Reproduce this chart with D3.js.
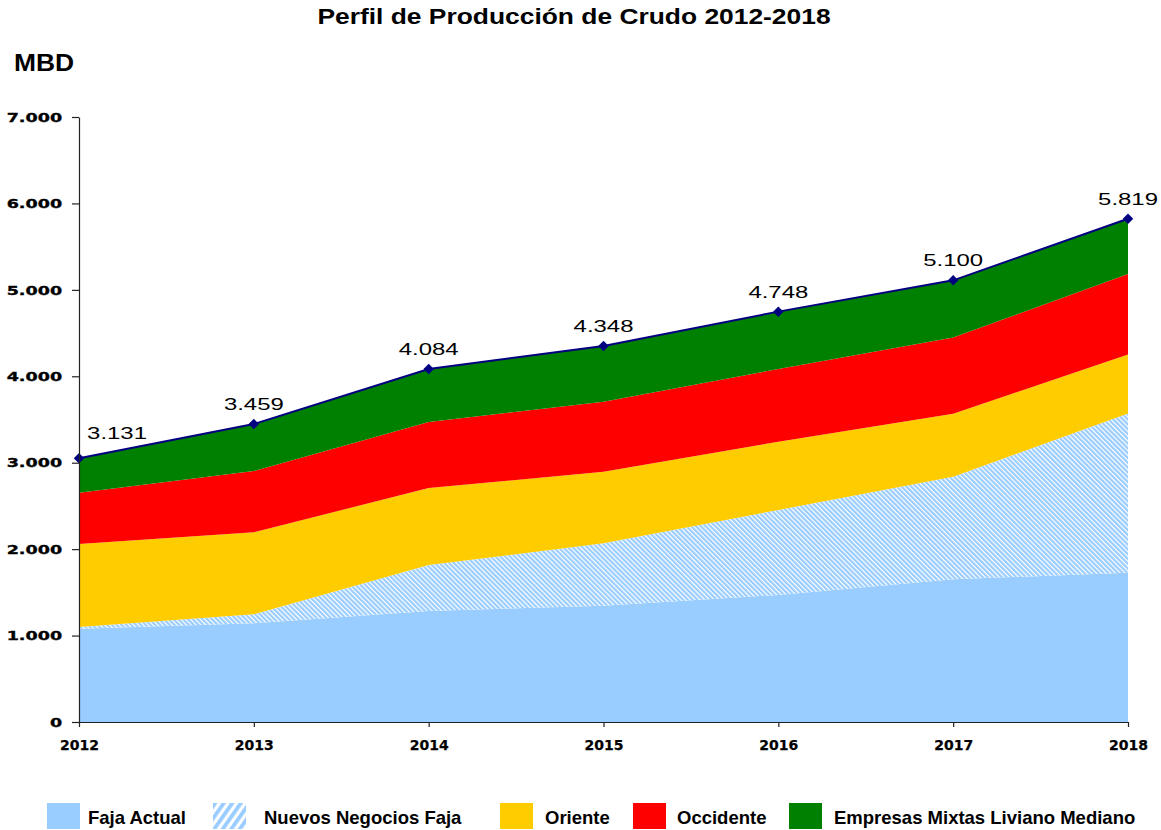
<!DOCTYPE html>
<html>
<head>
<meta charset="utf-8">
<script src="https://cdnjs.cloudflare.com/ajax/libs/d3/7.8.5/d3.min.js"></script>
<style>
  body { margin: 0; background: #fff; }
  svg text { font-family: "Liberation Sans", Arial, sans-serif; }
</style>
</head>
<body>
<svg id="chart" width="1161" height="830"></svg>
<script>
// ---- data (MBD) ----
var years = [2012, 2013, 2014, 2015, 2016, 2017, 2018];
var fajaActual     = [1080, 1142, 1284, 1346, 1470, 1651, 1727];
var nuevosNegocios = [  20,  104,  532,  721,  983, 1186, 1843];
var oriente        = [ 960,  949,  891,  829,  790,  729,  683];
var occidente      = [ 593,  709,  764,  810,  841,  884,  930];
var empresasMixtas = [ 398,  544,  613,  644,  664,  660,  640];
var totalLabels = ["3.131", "3.459", "4.084", "4.348", "4.748", "5.100", "5.819"];
var seriesKeys  = ["faja", "nuevos", "oriente", "occidente", "mixtas"];
var seriesNames = ["Faja Actual", "Nuevos Negocios Faja", "Oriente", "Occidente", "Empresas Mixtas Liviano Mediano"];
var yTicks = [0, 1000, 2000, 3000, 4000, 5000, 6000, 7000];

var seriesFill = ["#99ccff", "url(#hatch)", "#ffcc00", "#ff0000", "#008000"];
var legendFill = ["#99ccff", "url(#hatchLegend)", "#ffcc00", "#ff0000", "#008000"];

var svg = d3.select("#chart");
var plotLeft = 79, plotRight = 1128, plotTop = 117, plotBottom = 722;

var x = d3.scalePoint().domain(years).range([plotLeft, plotRight]);
var y = d3.scaleLinear().domain([0, 7000]).range([plotBottom, plotTop]);
var fmt = d3.formatLocale({decimal: ",", thousands: ".", grouping: [3], currency: ["", ""]}).format(",d");

// patterns for the hatched series
var defs = svg.append("defs");
var hatch = defs.append("pattern").attr("id", "hatch")
    .attr("patternUnits", "userSpaceOnUse")
    .attr("width", 3.4).attr("height", 3.4)
    .attr("patternTransform", "rotate(-45)");
hatch.append("rect").attr("width", 3.4).attr("height", 3.4).attr("fill", "#ffffff");
hatch.append("rect").attr("width", 2.2).attr("height", 3.4).attr("fill", "#99ccff");

var hatchL = defs.append("pattern").attr("id", "hatchLegend")
    .attr("patternUnits", "userSpaceOnUse")
    .attr("width", 7).attr("height", 7)
    .attr("patternTransform", "rotate(35)");
hatchL.append("rect").attr("width", 7).attr("height", 7).attr("fill", "#ffffff");
hatchL.append("rect").attr("width", 3.8).attr("height", 7).attr("fill", "#99ccff");

// stacked table
var rows = years.map(function(yr, i) {
    return {year: yr, faja: fajaActual[i], nuevos: nuevosNegocios[i], oriente: oriente[i],
            occidente: occidente[i], mixtas: empresasMixtas[i]};
});
var stacked = d3.stack().keys(seriesKeys)(rows);

var area = d3.area()
    .x(function(d) { return x(d.data.year); })
    .y0(function(d) { return y(d[0]); })
    .y1(function(d) { return y(d[1]); });

svg.selectAll(".layer")
    .data(stacked)
    .enter().append("path")
    .attr("class", "layer")
    .attr("d", area)
    .attr("fill", function(d, i) { return seriesFill[i]; });

// total line with diamond markers
var totals = stacked[stacked.length - 1].map(function(d) { return {year: d.data.year, v: d[1]}; });

svg.append("path")
    .datum(totals)
    .attr("fill", "none")
    .attr("stroke", "#000080")
    .attr("stroke-width", 2)
    .attr("d", d3.line().x(function(d) { return x(d.year); }).y(function(d) { return y(d.v); }));

svg.selectAll(".marker")
    .data(totals)
    .enter().append("path")
    .attr("class", "marker")
    .attr("transform", function(d) { return "translate(" + x(d.year) + "," + y(d.v) + ")"; })
    .attr("d", d3.symbol(d3.symbolDiamond2, 70))
    .attr("fill", "#000080");

// value labels
svg.selectAll(".vlabel")
    .data(totals)
    .enter().append("g")
    .attr("class", "vlabel")
    .attr("transform", function(d, i) {
        var px = x(d.year), py = y(d.v) - 14;
        if (i === 0) { px += 38; py -= 5; }   // kept clear of the axis
        return "translate(" + px + "," + py + ")";
    })
    .append("text")
    .attr("transform", "scale(1.45,1)")
    .attr("text-anchor", "middle")
    .style("font-size", "16.5px")
    .attr("fill", "#000")
    .text(function(d, i) { return totalLabels[i]; });

// axes
var yAxis = svg.append("g")
    .attr("transform", "translate(" + plotLeft + ",0)")
    .call(d3.axisLeft(y).tickValues(yTicks).tickFormat(fmt).tickSize(7).tickSizeOuter(0));
yAxis.selectAll("path, line").attr("stroke", "#222").attr("stroke-width", 1.2);
yAxis.selectAll("text")
    .attr("x", -12.5)
    .attr("transform", "scale(1.35,1)")
    .style("font-family", "'DejaVu Sans', Verdana, sans-serif")
    .style("font-weight", "bold")
    .style("font-size", "13px")
    .attr("stroke", "#000")
    .attr("stroke-width", 0.35)
    .attr("fill", "#000");

var xAxis = svg.append("g")
    .attr("transform", "translate(0," + plotBottom + ")")
    .call(d3.axisBottom(x).tickSize(5).tickSizeOuter(0));
xAxis.selectAll("path, line").attr("stroke", "#222").attr("stroke-width", 1.2);
xAxis.selectAll("text")
    .attr("y", 28)
    .attr("dy", null)
    .style("font-family", "'DejaVu Sans', Verdana, sans-serif")
    .style("font-weight", "bold")
    .style("font-size", "14px")
    .attr("stroke", "#000")
    .attr("stroke-width", 0.25)
    .attr("fill", "#000");

// titles
svg.append("g")
    .attr("transform", "translate(574,24)")
    .append("text")
    .attr("transform", "scale(1.2,1)")
    .attr("text-anchor", "middle")
    .style("font-size", "22px")
    .style("font-weight", "bold")
    .text("Perfil de Producción de Crudo 2012-2018");

svg.append("g")
    .attr("transform", "translate(14,71)")
    .append("text")
    .attr("transform", "scale(1.1,1)")
    .style("font-size", "24px")
    .style("font-weight", "bold")
    .text("MBD");

// legend
var legendX = [47, 213, 500, 633, 789];
var legendGap = [8, 18, 12, 11, 12];
var legend = svg.selectAll(".legend")
    .data(seriesNames)
    .enter().append("g")
    .attr("class", "legend")
    .attr("transform", function(d, i) { return "translate(" + legendX[i] + ",803)"; });

legend.append("rect")
    .attr("width", 33).attr("height", 26)
    .attr("fill", function(d, i) { return legendFill[i]; });

legend.append("text")
    .attr("x", function(d, i) { return 33 + legendGap[i]; })
    .attr("y", 21)
    .style("font-size", "18.5px")
    .style("font-weight", "bold")
    .text(function(d) { return d; });
</script>
</body>
</html>
